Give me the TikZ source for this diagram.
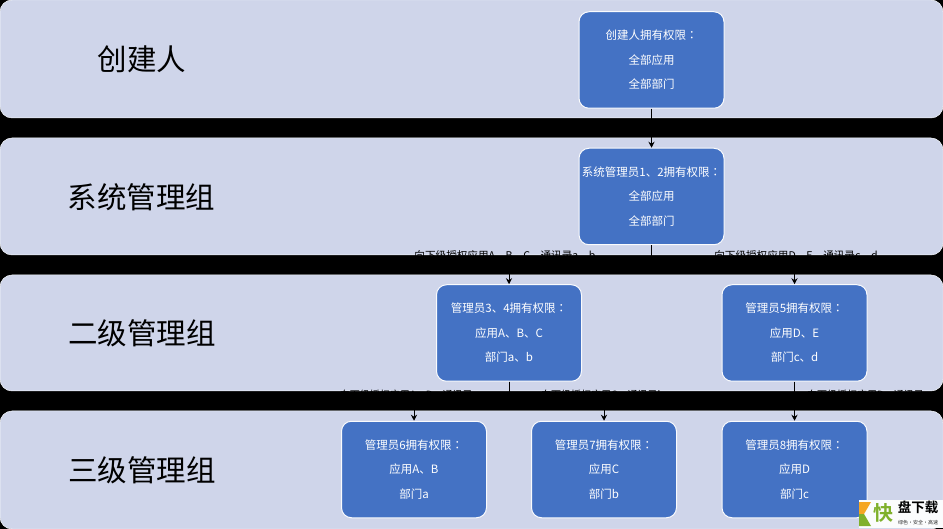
\documentclass[tikz,border=0pt]{standalone}
\usepackage{fontspec}
\setmainfont{Noto Sans CJK SC}
\newfontfamily\boldcjk{Noto Sans CJK SC Bold}
\newfontfamily\colonfont{Noto Sans CJK TC}
\newcommand{\rightscolon}{{\colonfont ：}}
\usetikzlibrary{arrows.meta}
\definecolor{bandfill}{HTML}{CFD5EA}
\definecolor{boxfill}{HTML}{4472C4}
\definecolor{markgreen}{HTML}{7FB02B}
\definecolor{markorange}{HTML}{F5A623}
\tikzstyle{arrow} = [line width=1pt,-{Stealth[length=6pt,width=6pt]},color=black]
\tikzstyle{band} = [fill=bandfill,draw=white!80!bandfill,line width=0.5pt,rounded corners=12pt]
\tikzstyle{grouptitle} = [font=\fontsize{29.5}{32}\selectfont,text=black,inner sep=0pt]
\tikzstyle{rightsbox} = [draw=white!90!bandfill,fill=boxfill,line width=1pt,rounded corners=10pt,minimum width=145pt,minimum height=96.5pt,inner sep=0pt,align=center,text=white,font=\fontsize{11.5}{24.5}\selectfont,execute at begin node={\rule{0pt}{16pt}}]
\tikzstyle{grantlabel} = [font=\fontsize{10.6}{13}\selectfont,text=black,inner sep=0pt]
\tikzstyle{grantsmall} = [font=\fontsize{10}{13}\selectfont,text=black,inner sep=0pt]
\begin{document}
\begin{tikzpicture}[x=1pt,y=-1pt]
\useasboundingbox (0,0) rectangle (943,529);
\fill[black] (0,0) rectangle (943,529);
\draw[band] (0,0) rectangle (943,118);
\draw[band] (0,138) rectangle (943,255);
\draw[band] (0,275) rectangle (943,391);
\draw[band] (0,411) rectangle (943,529);
\node[grouptitle] (creator) at (142,59) {创建人};
\node[grouptitle] (system) at (141.5,197) {系统管理组};
\node[grouptitle] (second) at (142,333) {二级管理组};
\node[grouptitle] (third) at (142,470) {三级管理组};
\node[grantlabel] (grantA) at (505,256) {向下级授权应用A、B、C，通讯录a、b};
\node[grantlabel] (grantB) at (796,256) {向下级授权应用D、E，通讯录c、d};
\node[grantsmall] (grantC) at (409,395) {向下级授权应用A、B，通讯录a};
\node[grantsmall] (grantD) at (602.5,395) {向下级授权应用C，通讯录b};
\node[grantsmall] (grantE) at (868,395) {向下级授权应用D，通讯录c};
\node[rightsbox] (owner) at (651.5,60) {创建人拥有权限\rightscolon\\全部应用\\全部部门};
\node[rightsbox] (sys) at (651.5,196.5) {系统管理员1、2拥有权限\rightscolon\\全部应用\\全部部门};
\node[rightsbox] (mgrA) at (509,333) {管理员3、4拥有权限\rightscolon\\应用A、B、C\\部门a、b};
\node[rightsbox] (mgrB) at (794.5,333) {管理员5拥有权限\rightscolon\\应用D、E\\部门c、d};
\node[rightsbox] (mgrC) at (414,469.5) {管理员6拥有权限\rightscolon\\应用A、B\\部门a};
\node[rightsbox] (mgrD) at (604,469.5) {管理员7拥有权限\rightscolon\\应用C\\部门b};
\node[rightsbox] (mgrE) at (794.5,469.5) {管理员8拥有权限\rightscolon\\应用D\\部门c};
\coordinate (splitA) at (651.5,265);
\coordinate (splitB) at (509,401);
\draw[arrow] (owner.south) -- (sys.north);
\draw[arrow] (sys.south) -- (splitA) -| (mgrA.north);
\draw[arrow] (sys.south) -- (splitA) -| (mgrB.north);
\draw[arrow] (mgrA.south) -- (splitB) -| (mgrC.north);
\draw[arrow] (mgrA.south) -- (splitB) -| (mgrD.north);
\draw[arrow] (mgrB.south) -- (mgrE.north);
\fill[white!92!bandfill] (859,500) rectangle (943,528);
\fill[markorange] (859,502) -- (871,502) -- (864,514) -- (859,514) -- cycle;
\fill[markgreen] (859,514) -- (864,514) -- (871,526) -- (859,526) -- cycle;
\node[font=\boldcjk\fontsize{20}{20}\selectfont,text=markgreen,inner sep=0pt] (markleft) at (883,513) {快};
\node[font=\boldcjk\fontsize{13.5}{14}\selectfont,text=black,inner sep=0pt] (markright) at (918,507) {盘下载};
\node[font=\fontsize{5}{5}\selectfont,text=black!80,inner sep=0pt] (marksub) at (918,523) {绿色·安全·高速};
\end{tikzpicture}
\end{document}
